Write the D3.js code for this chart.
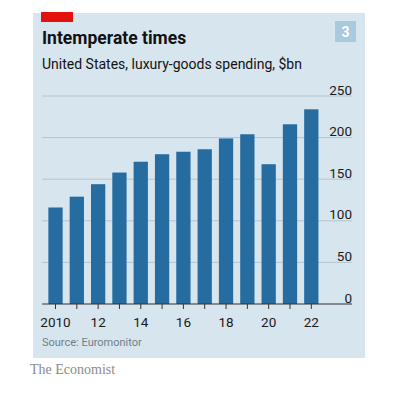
<!DOCTYPE html>
<html>
<head>
<meta charset="utf-8">
<script src="https://cdn.jsdelivr.net/npm/d3@7"></script>
<style>
  html, body { margin: 0; padding: 0; background: #ffffff; }
  svg { display: block; }
</style>
</head>
<body>
<svg id="chart" width="394" height="394"></svg>
<script>
const years = [2010, 2011, 2012, 2013, 2014, 2015, 2016, 2017, 2018, 2019, 2020, 2021, 2022];
const spending = [116, 129, 144, 158, 171, 180, 183, 186, 199, 204, 168, 216, 234];
const yTicks = [0, 50, 100, 150, 200, 250];
const xTickLabels = ["2010", "", "12", "", "14", "", "16", "", "18", "", "20", "", "22"];

const title = "Intemperate times";
const subtitle = "United States, luxury-goods spending, $bn";
const source = "Source: Euromonitor";
const brand = "The Economist";
const chartNumber = "3";

const svg = d3.select("#chart");
const sans = "Roboto, 'Noto Sans', sans-serif";

// panel
svg.append("rect").attr("x", 33).attr("y", 13).attr("width", 332).attr("height", 345).attr("fill", "#d7e5ee");
svg.append("rect").attr("x", 41).attr("y", 12).attr("width", 32).attr("height", 10).attr("fill", "#e3120b");

// number box
svg.append("rect").attr("x", 335).attr("y", 21).attr("width", 21).attr("height", 21).attr("fill", "#a9c9de");
svg.append("text").attr("x", 345.5).attr("y", 36.5).attr("text-anchor", "middle")
  .attr("font-family", sans).attr("font-weight", 700).attr("font-size", 14).attr("fill", "#ffffff").text(chartNumber);

svg.append("text").attr("x", 42).attr("y", 43.5).attr("font-family", sans).attr("font-weight", 700)
  .attr("font-size", 17.5).attr("fill", "#121212").text(title);
svg.append("text").attr("x", 42).attr("y", 68.5).attr("font-family", sans).attr("font-weight", 400)
  .attr("font-size", 14).attr("fill", "#121212").text(subtitle);

const x = d3.scaleBand().domain(years).range([44.84, 321.96]).paddingInner(0.33).paddingOuter(0.165);
const y = d3.scaleLinear().domain([0, 250]).range([304, 96]);

// gridlines + y labels
const g = svg.append("g");
g.selectAll("line.grid").data(yTicks.filter(d => d > 0)).join("line")
  .attr("class", "grid").attr("x1", 42).attr("x2", 352)
  .attr("y1", d => y(d)).attr("y2", d => y(d))
  .attr("stroke", "#b4c4cf").attr("stroke-width", 1);
g.selectAll("text.ylab").data(yTicks).join("text")
  .attr("class", "ylab").attr("x", 352).attr("y", d => y(d) - 1.5)
  .attr("text-anchor", "end").attr("font-family", sans).attr("font-size", 13.5)
  .attr("fill", "#1a1a1a").text(d => d);

// bars
g.selectAll("rect.bar").data(years).join("rect")
  .attr("class", "bar")
  .attr("x", d => x(d)).attr("width", x.bandwidth())
  .attr("y", (d, i) => y(spending[i])).attr("height", (d, i) => y(0) - y(spending[i]))
  .attr("fill", "#266ca0");

// x axis
const xAxis = d3.axisBottom(x).tickSize(5).tickFormat((d, i) => xTickLabels[i]);
const ax = svg.append("g").attr("transform", `translate(0,${y(0)})`).call(xAxis);
ax.select(".domain").remove();
ax.selectAll(".tick line").attr("stroke", "#333333").attr("stroke-width", 1);
ax.selectAll(".tick text").attr("font-family", sans).attr("font-size", 13.5)
  .attr("fill", "#1a1a1a").attr("dy", null).attr("y", 22.5);
svg.append("line").attr("x1", 42).attr("x2", 352).attr("y1", y(0)).attr("y2", y(0))
  .attr("stroke", "#333333").attr("stroke-width", 1.2);

svg.append("text").attr("x", 42).attr("y", 345.5).attr("font-family", sans).attr("font-size", 11)
  .attr("fill", "#6f7f8a").text(source);
svg.append("text").attr("x", 30).attr("y", 374).attr("font-family", "'Liberation Serif', 'DejaVu Serif', serif")
  .attr("font-size", 14).attr("fill", "#8a8a8a").text(brand);
</script>
</body>
</html>
